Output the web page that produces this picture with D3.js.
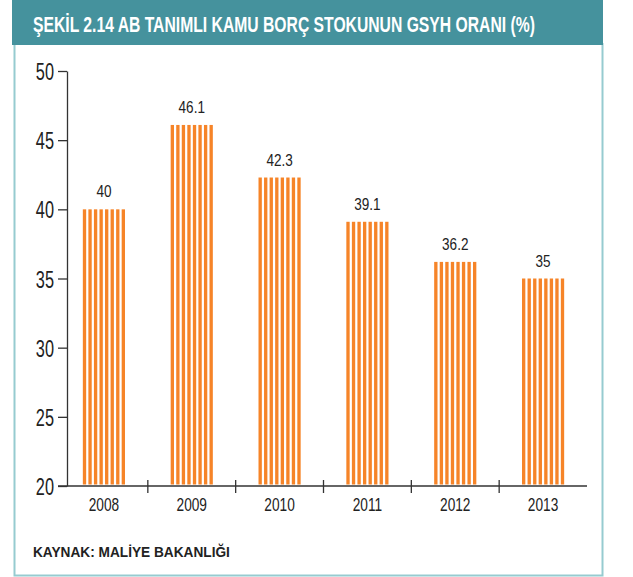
<!DOCTYPE html>
<html>
<head>
<meta charset="utf-8">
<script src="https://cdn.jsdelivr.net/npm/d3@7"></script>
<style>
  body { margin: 0; background: #fff; }
  text { font-family: "Liberation Sans", Arial, sans-serif; }
</style>
</head>
<body>
<div id="chart"></div>
<script>
//chart data
let years = ["2008", "2009", "2010", "2011", "2012", "2013"];
let ratios = [40, 46.1, 42.3, 39.1, 36.2, 35];
let yTicks = [20, 25, 30, 35, 40, 45, 50];
let titleText = "ŞEKİL 2.14 AB TANIMLI KAMU BORÇ STOKUNUN GSYH ORANI (%)";
let sourceText = "KAYNAK: MALİYE BAKANLIĞI";

let orange = "#f68428";
let teal = "#45929d";
let stripeCount = 8;

var svg = d3.select("#chart")
        .append("svg")
        .attr("width", 633)
        .attr("height", 577);

//squeeze text so it looks like the condensed font of the original
function condense(sel, ratio){
  sel.each(function(){
    let len = this.getComputedTextLength();
    d3.select(this)
      .attr("textLength", len * ratio)
      .attr("lengthAdjust", "spacingAndGlyphs");
  });
}

//one line of text squeezed to a given width with a horizontal scale
function squeezedText(px, py, width, size, color, str){
  let g = svg.append("g");
  let t = g.append("text")
      .attr("x", 0).attr("y", 0)
      .attr("fill", color)
      .style("font-size", size + "px")
      .style("font-weight", "bold")
      .text(str);
  let sx = width / t.node().getComputedTextLength();
  g.attr("transform", "translate(" + px + "," + py + ") scale(" + sx + ",1)");
  return g;
}

//frame + header
svg.append("rect")
    .attr("x", 14.5).attr("y", 44)
    .attr("width", 588).attr("height", 531.5)
    .attr("fill", "#fff")
    .attr("stroke", "#96cbd0")
    .attr("stroke-width", 2);

svg.append("rect")
    .attr("x", 12).attr("y", 0)
    .attr("width", 591).attr("height", 45)
    .attr("fill", teal);

squeezedText(33, 32, 502, 22, "#fff", titleText);

//scales
let x = d3.scaleBand()
    .domain(years)
    .range([60, 587]);

let y = d3.scaleLinear()
    .domain([20, 50])
    .range([486, 71]);

let barWidth = x.bandwidth() * 0.48;

let stripeX = d3.scaleBand()
    .domain(d3.range(stripeCount))
    .range([0, barWidth])
    .paddingInner(0.4);

//bars made of vertical stripes
let bars = svg.selectAll(".bar")
    .data(years)
    .enter()
    .append("g")
    .attr("class", "bar")
    .attr("transform", d => "translate(" + (x(d) + (x.bandwidth() - barWidth) / 2) + ",0)");

bars.selectAll("rect")
    .data((d, i) => d3.range(stripeCount).map(s => ({ s: s, v: ratios[i] })))
    .enter()
    .append("rect")
    .attr("x", d => stripeX(d.s))
    .attr("y", d => y(d.v))
    .attr("width", stripeX.bandwidth())
    .attr("height", d => y(20) - 1.5 - y(d.v))
    .attr("fill", orange);

//value labels
let valueLabels = svg.selectAll(".val")
    .data(years)
    .enter()
    .append("text")
    .attr("class", "val")
    .attr("x", d => x(d) + x.bandwidth() / 2)
    .attr("y", (d, i) => y(ratios[i]) - 12)
    .attr("text-anchor", "middle")
    .attr("fill", "#222")
    .style("font-size", "16.5px")
    .text((d, i) => String(ratios[i]));
condense(valueLabels, 0.82);

//y axis
let yAxis = svg.append("g")
    .attr("transform", "translate(67,0)")
    .call(d3.axisLeft(y).tickValues(yTicks).tickSize(9).tickSizeOuter(0).tickPadding(4));
yAxis.select(".domain").attr("stroke", "#333").attr("stroke-width", 1.3);
yAxis.selectAll(".tick line").attr("stroke", "#333").attr("stroke-width", 1.3);
yAxis.selectAll(".tick text")
    .attr("fill", "#222")
    .attr("dy", "0.36em")
    .style("font-size", "24px")
    .attr("font-family", null);
condense(yAxis.selectAll(".tick text"), 0.68);

//x axis line and dividers between years
svg.append("line")
    .attr("x1", 58).attr("x2", 587)
    .attr("y1", y(20)).attr("y2", y(20))
    .attr("stroke", "#333")
    .attr("stroke-width", 1.3);

svg.selectAll(".divider")
    .data(years.slice(1))
    .enter()
    .append("line")
    .attr("class", "divider")
    .attr("x1", d => x(d)).attr("x2", d => x(d))
    .attr("y1", y(20) - 6).attr("y2", y(20) + 7)
    .attr("stroke", "#333")
    .attr("stroke-width", 1.3);

let xAxis = svg.append("g")
    .attr("transform", "translate(0," + y(20) + ")")
    .call(d3.axisBottom(x).tickSize(0).tickPadding(12));
xAxis.select(".domain").remove();
xAxis.selectAll(".tick text")
    .attr("fill", "#222")
    .style("font-size", "19px")
    .attr("font-family", null);
condense(xAxis.selectAll(".tick text"), 0.72);

//source note
squeezedText(33, 557, 197, 15, "#222", sourceText);
</script>
</body>
</html>
